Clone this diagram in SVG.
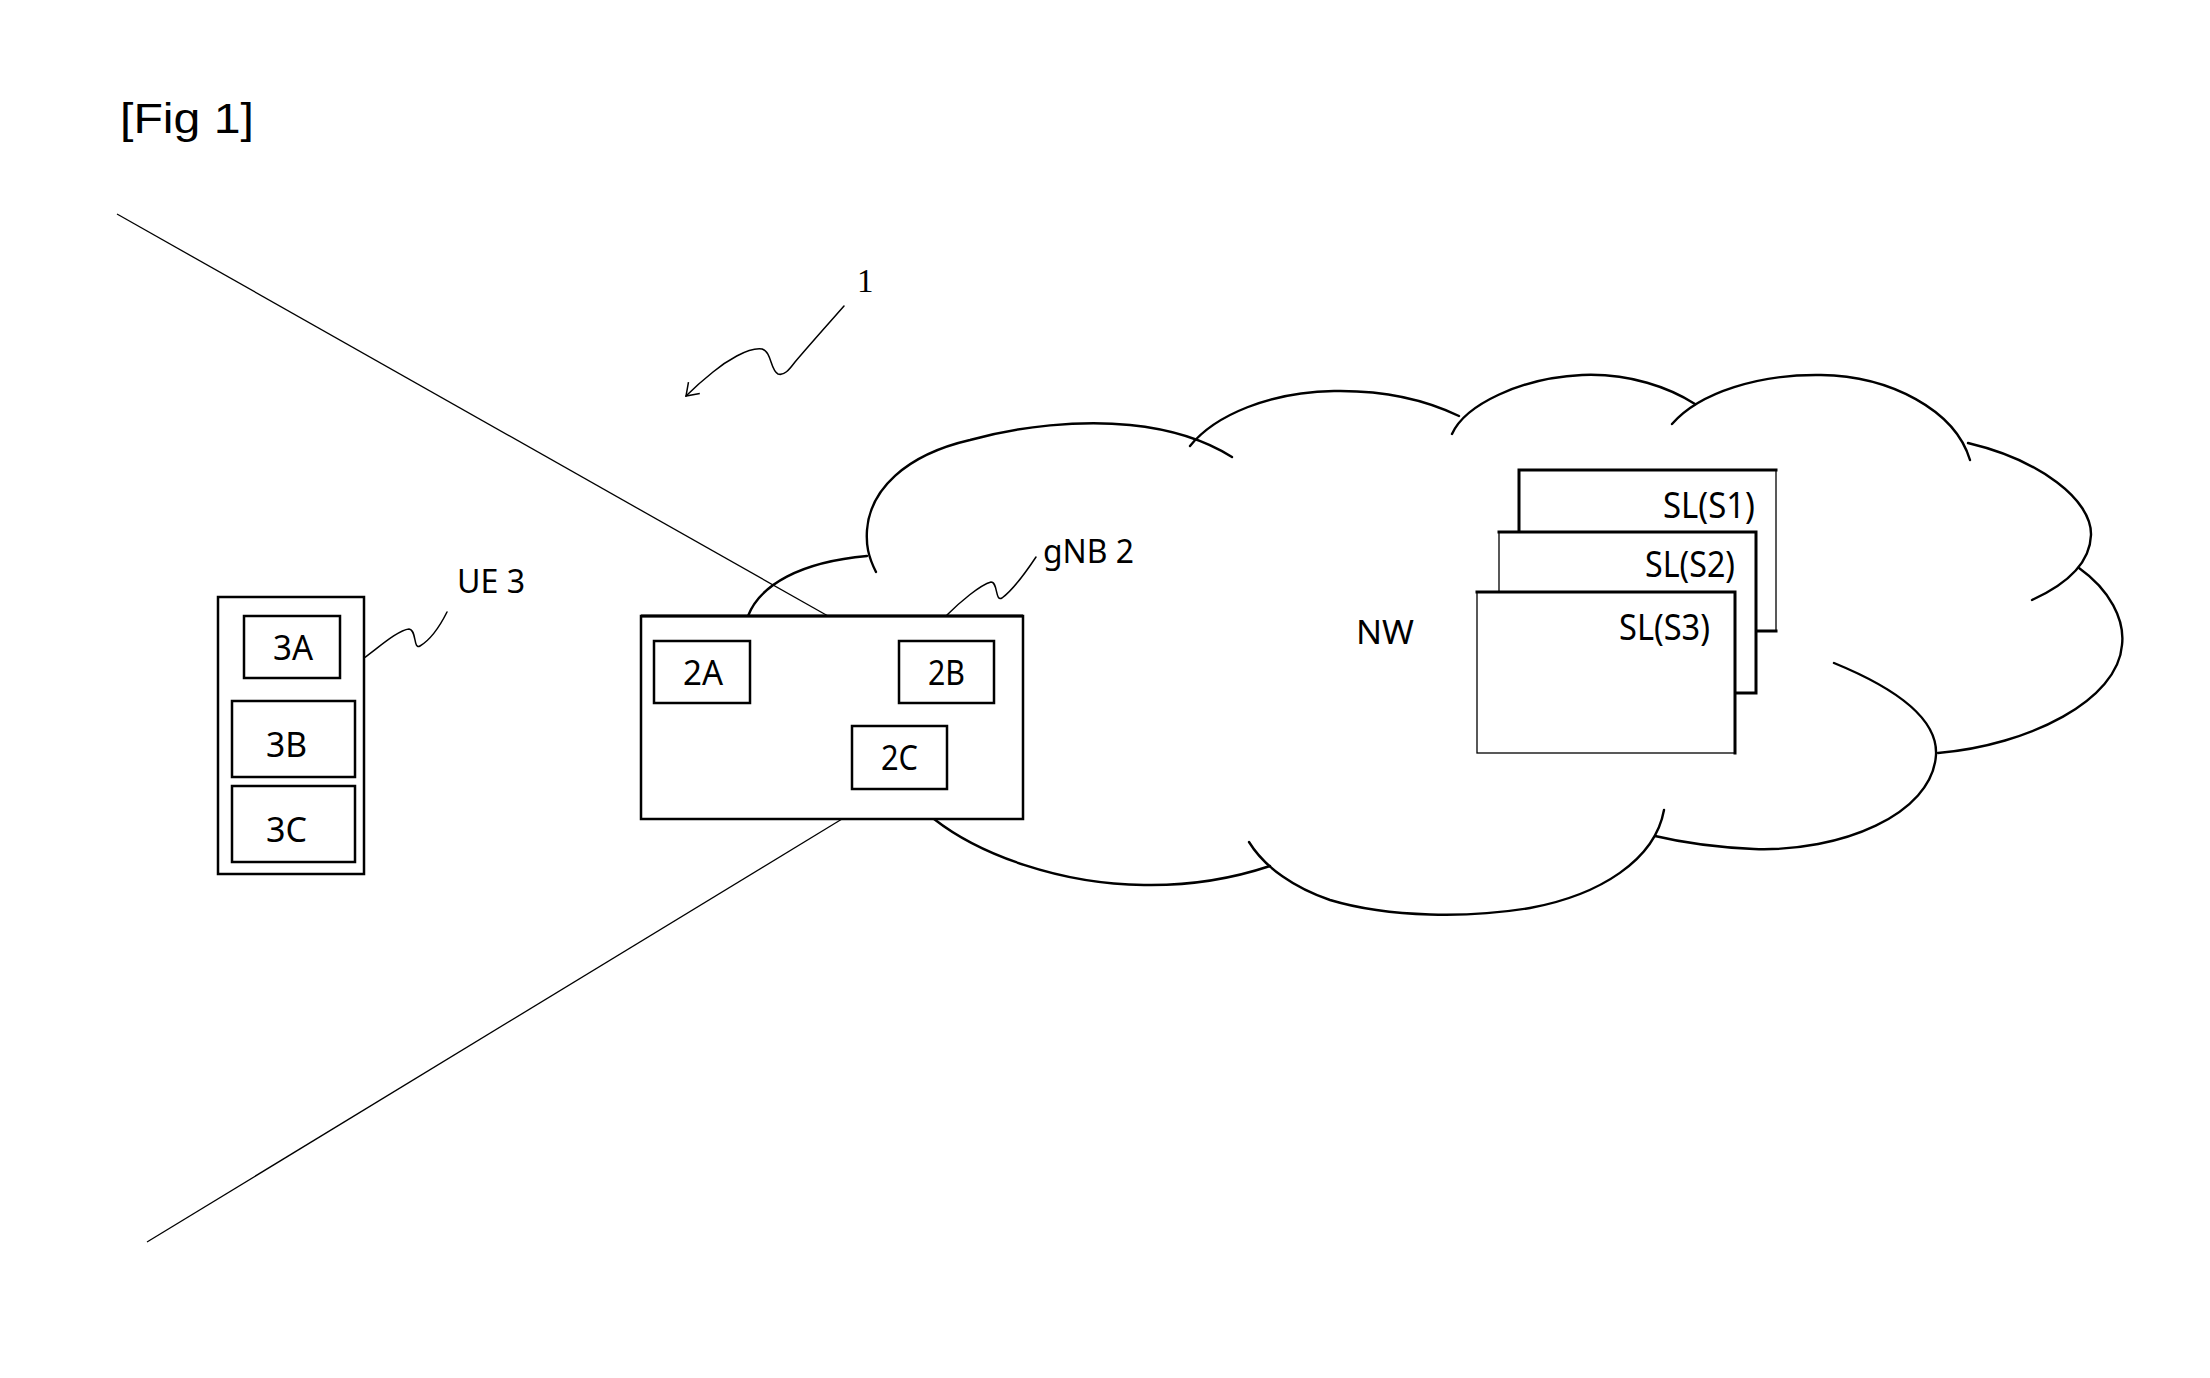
<svg xmlns="http://www.w3.org/2000/svg" width="2210" height="1378" viewBox="0 0 2210 1378">
<style>
  .lbl { font-family: "Noto Sans", "Open Sans", sans-serif; fill: #000; }
  .s32 { font-size: 32px; }
  .s34 { font-size: 34px; }
  .s37 { font-size: 37px; }
  .box { fill: #fff; stroke: #000; stroke-width: 2.5; }
  .thin { fill: #fff; stroke: #000; stroke-width: 1.3; }
  .edge { fill: none; stroke: #000; stroke-width: 3; stroke-linecap: square; }
  .cloud { fill: none; stroke: #000; stroke-width: 2.4; stroke-linecap: round; }
  .ray { fill: none; stroke: #000; stroke-width: 1.3; }
  .lead { fill: none; stroke: #000; stroke-width: 1.5; stroke-linecap: round; }
</style>
<defs>
  <marker id="openArrow" markerUnits="userSpaceOnUse" markerWidth="30" markerHeight="30" refX="0" refY="0" orient="auto" overflow="visible">
    <path d="M-11.5,-8 L0,0 L-11.5,8" fill="none" stroke="#000" stroke-width="1.5"/>
  </marker>
</defs>
<rect x="0" y="0" width="2210" height="1378" fill="#fff"/>

<g id="title">
  <text x="120" y="133" font-family="'Liberation Sans', Arial, sans-serif" font-size="43" textLength="134" lengthAdjust="spacingAndGlyphs">[Fig 1]</text>
</g>

<g id="connectors">
  <line class="ray" x1="117" y1="214" x2="828" y2="616"/>
  <line class="ray" x1="842" y1="819" x2="147" y2="1242"/>
  <path id="leader-1" class="lead" d="M844,306 C830,322 812,342 795,362 C789,370 784,376 778,374 C770,370 772,352 762,349 C748,347 725,362 713,372 C703,380 694,388 686,396" marker-end="url(#openArrow)"/>
  <path id="leader-ue3" class="lead" d="M364,658 C378,648 398,630 409,629 C417,630 413,650 420,646 C430,640 440,626 447,612"/>
  <path id="leader-gnb2" class="lead" d="M947,615 C960,602 980,585 991,582 C998,582 995,602 1002,598 C1013,590 1026,572 1036,557"/>
</g>

<g id="nw-cloud">
  <path class="cloud" d="M748,616 C760,585 800,562 867,556"/>
  <path class="cloud" d="M876,572 C868,556 866,545 867,530 C870,490 905,455 970,440 C1020,426 1080,420 1130,425 C1170,429 1205,440 1232,457"/>
  <path class="cloud" d="M1190,446 C1215,415 1270,392 1334,391 C1390,390 1430,402 1459,416"/>
  <path class="cloud" d="M1452,434 C1465,405 1520,378 1582,375 C1630,373 1670,388 1695,404"/>
  <path class="cloud" d="M1672,424 C1700,392 1760,374 1821,375 C1890,376 1955,410 1970,460"/>
  <path class="cloud" d="M1968,443 C2040,460 2092,500 2091,535 C2090,565 2065,585 2032,600"/>
  <path class="cloud" d="M2079,568 C2110,590 2125,620 2122,645 C2118,700 2030,745 1938,753"/>
  <path class="cloud" d="M1834,663 C1900,690 1938,720 1936,755 C1932,815 1840,852 1754,849 C1710,847 1680,842 1655,836"/>
  <path class="cloud" d="M1664,810 C1655,860 1600,895 1530,908 C1470,918 1390,918 1330,900 C1295,888 1265,868 1249,842"/>
  <path class="cloud" d="M934,819 C980,855 1060,884 1144,885 C1200,886 1240,876 1270,866"/>
  <text class="lbl s32" x="1356" y="644" textLength="58" lengthAdjust="spacingAndGlyphs">NW</text>
</g>

<g id="sl-s1">
  <rect class="thin" x="1519" y="470" width="257" height="161"/>
  <path class="edge" d="M1519,631 L1519,470 L1776,470 M1740,631 L1776,631"/>
  <text class="lbl s37" x="1663" y="518" textLength="92" lengthAdjust="spacingAndGlyphs">SL(S1)</text>
</g>
<g id="sl-s2">
  <rect class="thin" x="1499" y="532" width="257" height="161"/>
  <path class="edge" d="M1499,532 L1756,532 L1756,693 L1720,693"/>
  <text class="lbl s37" x="1645" y="577" textLength="90" lengthAdjust="spacingAndGlyphs">SL(S2)</text>
</g>
<g id="sl-s3">
  <rect class="thin" x="1477" y="592" width="258" height="161"/>
  <path class="edge" d="M1477,592 L1735,592 L1735,753"/>
  <text class="lbl s37" x="1619" y="640" textLength="91" lengthAdjust="spacingAndGlyphs">SL(S3)</text>
</g>

<g id="ue3">
  <rect class="box" x="218" y="597" width="146" height="277"/>
  <text class="lbl s32" x="457" y="593" textLength="68" lengthAdjust="spacingAndGlyphs">UE 3</text>
  <g id="node-3A">
    <rect class="box" x="244" y="616" width="96" height="62" stroke-width="2"/>
    <text class="lbl s34" x="273" y="660" textLength="40" lengthAdjust="spacingAndGlyphs">3A</text>
  </g>
  <g id="node-3B">
    <rect class="box" x="232" y="701" width="123" height="76" stroke-width="3"/>
    <text class="lbl s34" x="266" y="757" textLength="41" lengthAdjust="spacingAndGlyphs">3B</text>
  </g>
  <g id="node-3C">
    <rect class="box" x="232" y="786" width="123" height="76" stroke-width="3"/>
    <text class="lbl s34" x="266" y="842" textLength="41" lengthAdjust="spacingAndGlyphs">3C</text>
  </g>
</g>

<g id="gnb2">
  <rect class="box" x="641" y="616" width="382" height="203" stroke-width="2"/>
  <line x1="641" y1="616" x2="1023" y2="616" stroke="#000" stroke-width="3"/>
  <text class="lbl s32" x="1043" y="563" textLength="91" lengthAdjust="spacingAndGlyphs">gNB 2</text>
  <g id="node-2A">
    <rect class="box" x="654" y="641" width="96" height="62" stroke-width="2"/>
    <text class="lbl s34" x="683" y="685" textLength="40" lengthAdjust="spacingAndGlyphs">2A</text>
  </g>
  <g id="node-2B">
    <rect class="box" x="899" y="641" width="95" height="62" stroke-width="2"/>
    <text class="lbl s34" x="928" y="685" textLength="37" lengthAdjust="spacingAndGlyphs">2B</text>
  </g>
  <g id="node-2C">
    <rect class="box" x="852" y="726" width="95" height="63" stroke-width="2"/>
    <text class="lbl s34" x="881" y="770" textLength="37" lengthAdjust="spacingAndGlyphs">2C</text>
  </g>
</g>

<g id="system-1">
  <text x="857" y="292" font-family="'Liberation Serif', 'Times New Roman', serif" font-size="33">1</text>
</g>
</svg>
